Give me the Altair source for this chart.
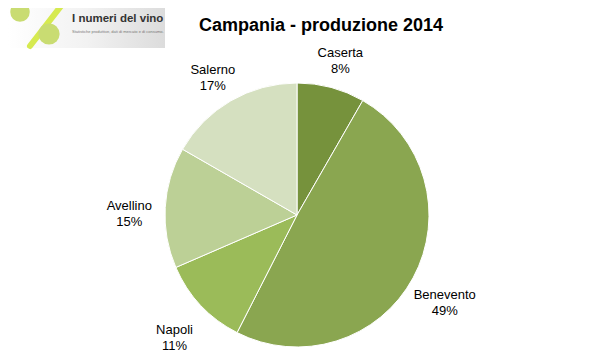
import altair as alt
import pandas as pd

# ---- data ----
regions = ["Caserta", "Benevento", "Napoli", "Avellino", "Salerno"]
shares = [8.3, 49.2, 11.0, 14.8, 16.7]
colors = ["#76923C", "#8AA650", "#9BBB59", "#BCD096", "#D5E0C0"]
title_text = "Campania - produzione 2014"
logo_title = "I numeri del vino"
logo_sub = "Statistiche produttive, dati di mercato e di consumo."

df = pd.DataFrame({
    "region": regions,
    "share": shares,
    "order": list(range(len(regions))),
    "label": [f"{r}\n{round(s)}%" for r, s in zip(regions, shares)],
})

CX, CY, R = 289, 207, 132

base = alt.Chart(df).encode(
    theta=alt.Theta("share:Q", stack=True),
    order=alt.Order("order:Q"),
    x=alt.value(CX),
    y=alt.value(CY),
)

pie = base.mark_arc(outerRadius=R, stroke="white", strokeWidth=1).encode(
    color=alt.Color("region:N", scale=alt.Scale(domain=regions, range=colors), legend=None)
)

labels = base.mark_text(radius=168, font="Liberation Sans", fontSize=13,
                        lineBreak="\n", color="#000000", baseline="middle",
                        align="center", lineHeight=16).encode(text="label:N")

one = alt.Data(values=[{"a": 1}])

title = alt.Chart(one).mark_text(font="Liberation Sans", fontSize=18, fontWeight="bold",
                                 color="#000000", baseline="alphabetic").encode(
    x=alt.value(313), y=alt.value(23), text=alt.value(title_text))

logo_bg = alt.Chart(one).mark_rect(
    fill=alt.Gradient(gradient="linear",
                      stops=[alt.GradientStop(color="#ffffff", offset=0),
                             alt.GradientStop(color="#f2f2f2", offset=0.5),
                             alt.GradientStop(color="#dcdcdc", offset=1)],
                      x1=0, x2=1, y1=0, y2=0)
).encode(x=alt.value(0), x2=alt.value(157), y=alt.value(0), y2=alt.value(40))

slash = alt.Chart(one).mark_rule(color="#d6ea50", strokeWidth=6, strokeCap="round").encode(
    x=alt.value(53), y=alt.value(-2), x2=alt.value(22), y2=alt.value(38))

grape1 = alt.Chart(one).mark_circle(color="#c9dc72", opacity=1, size=380).encode(
    x=alt.value(12), y=alt.value(4))
grape2 = alt.Chart(one).mark_circle(color="#c9dc72", opacity=1, size=450).encode(
    x=alt.value(41), y=alt.value(26))

logo_t = alt.Chart(one).mark_text(font="Liberation Sans", fontSize=11.5, fontWeight="bold",
                                  color="#333333", align="left", baseline="alphabetic").encode(
    x=alt.value(64), y=alt.value(14), text=alt.value(logo_title))
logo_s = alt.Chart(one).mark_text(font="Liberation Sans", fontSize=4,
                                  color="#777777", align="left", baseline="alphabetic").encode(
    x=alt.value(64), y=alt.value(25), text=alt.value(logo_sub))

chart = alt.layer(logo_bg, slash, grape1, grape2, logo_t, logo_s,
                  pie, labels, title).properties(
    width=583, height=345, padding=0, background="white",
    autosize=alt.AutoSizeParams(type="none")
).configure_view(stroke=None)

chart.save("out.html", embed_options={"renderer": "svg", "actions": False})
